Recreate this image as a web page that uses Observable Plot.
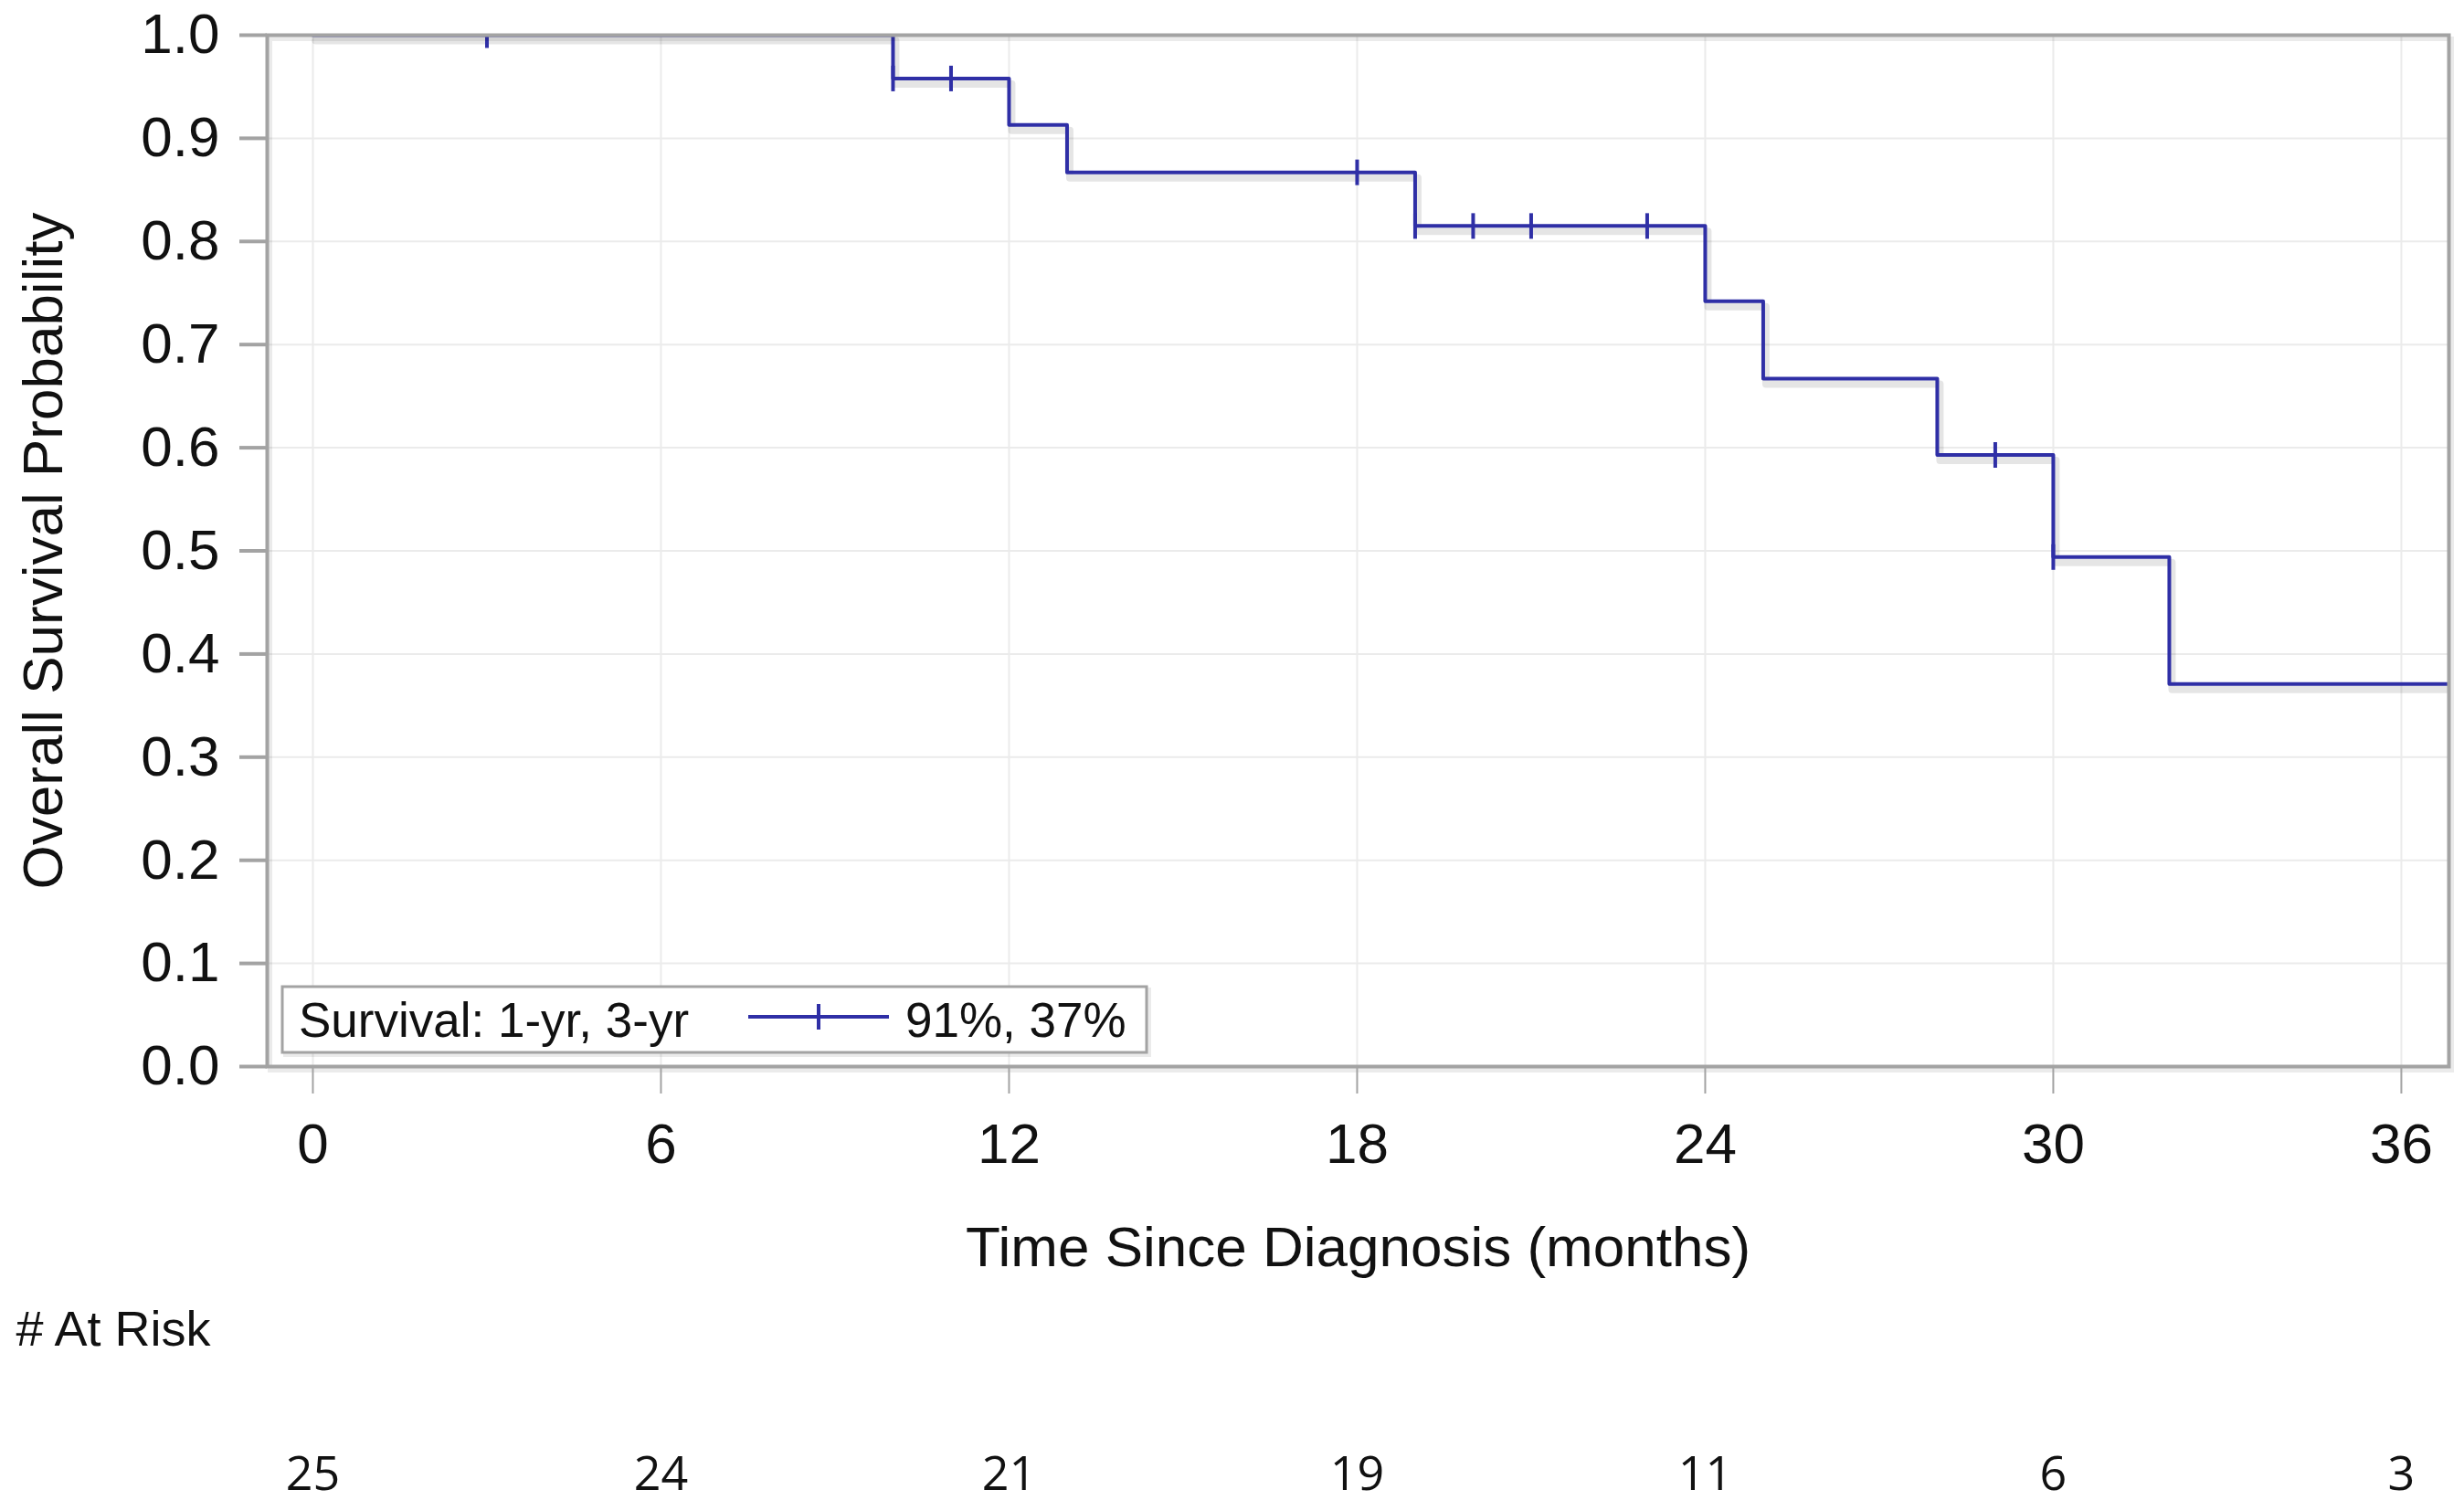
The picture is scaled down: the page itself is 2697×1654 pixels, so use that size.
<!DOCTYPE html>
<html>
<head>
<meta charset="utf-8">
<script src="https://cdn.jsdelivr.net/npm/d3@7"></script>
<script src="https://cdn.jsdelivr.net/npm/@observablehq/plot@0.6"></script>
<style>
  html, body { margin: 0; padding: 0; background: #fff; }
  #chart svg { display: block; }
</style>
</head>
<body>
<div id="chart"></div>
<script>
// ---- data ----
const stepMonths   = [0, 10, 12, 13, 19, 24, 25, 28, 30, 32, 36.8];
const stepSurvival = [1, 0.958, 0.913, 0.867, 0.815, 0.742, 0.667, 0.593, 0.494, 0.371, 0.371];
const censorMonths   = [3, 10, 11, 18, 19, 20, 21, 23, 29, 30];
const censorSurvival = [1, 0.958, 0.958, 0.867, 0.815, 0.815, 0.815, 0.815, 0.593, 0.494];
const xTicks = [0, 6, 12, 18, 24, 30, 36];
const yTicks = [0, 0.1, 0.2, 0.3, 0.4, 0.5, 0.6, 0.7, 0.8, 0.9, 1.0];
const atRiskMonths = [0, 6, 12, 18, 24, 30, 36];
const atRiskCounts = [25, 24, 21, 19, 11, 6, 3];
const legendTitle = "Survival: 1-yr, 3-yr";
const legendValue = "91%, 37%";
const xLabel = "Time Since Diagnosis (months)";
const yLabel = "Overall Survival Probability";
const riskLabel = "# At Risk";

const curve = stepMonths.map((m, i) => ({month: m, s: stepSurvival[i]}));
const censors = censorMonths.map((m, i) => ({month: m, s: censorSurvival[i]}));
const atRisk = atRiskMonths.map((m, i) => ({month: m, n: atRiskCounts[i]}));

const lineColor = "#2f2fa6";
const frameColor = "#a3a3a3";
const sans = "'Liberation Sans', Arial, sans-serif";

const censorSymbol = {
  draw(ctx) { ctx.moveTo(0, -14); ctx.lineTo(0, 14); }
};

function legendMark(index, scales, values, dims) {
  const g = d3.create("svg:g");
  const x0 = dims.marginLeft + 17;
  const yB = dims.height - dims.marginBottom;
  const top = yB - 87, bottom = yB - 15, right = x0 + 946;
  const cy = (top + bottom) / 2;
  g.append("rect").attr("x", x0 + 3).attr("y", top + 3).attr("width", right - x0).attr("height", bottom - top)
    .attr("fill", "none").attr("stroke", "#000").attr("stroke-opacity", 0.08).attr("stroke-width", 4);
  g.append("rect").attr("x", x0).attr("y", top).attr("width", right - x0).attr("height", bottom - top)
    .attr("fill", "#fff").attr("stroke", frameColor).attr("stroke-width", 3);
  g.append("text").attr("x", x0 + 18).attr("y", cy).attr("dy", "0.36em").attr("text-anchor", "start")
    .attr("font-family", sans).attr("font-size", 53).attr("fill", "#111").text(legendTitle);
  g.append("line").attr("x1", x0 + 510).attr("x2", x0 + 664).attr("y1", cy - 3).attr("y2", cy - 3)
    .attr("stroke", lineColor).attr("stroke-width", 4);
  g.append("line").attr("x1", x0 + 587).attr("x2", x0 + 587).attr("y1", cy - 17).attr("y2", cy + 11)
    .attr("stroke", lineColor).attr("stroke-width", 4);
  g.append("text").attr("x", x0 + 682).attr("y", cy).attr("dy", "0.36em").attr("text-anchor", "start")
    .attr("font-family", sans).attr("font-size", 53).attr("fill", "#111").text(legendValue);
  return g.node();
}

const plot = Plot.plot({
  width: 2697,
  height: 1654,
  marginLeft: 292,
  marginRight: 17,
  marginTop: 38,
  marginBottom: 487,
  style: {fontFamily: sans, fontSize: "62px", color: "#111", background: "#fff"},
  x: {domain: [-0.787, 36.82], ticks: xTicks},
  y: {domain: [0, 1], ticks: yTicks},
  marks: [
    Plot.gridX(xTicks, {stroke: "#ebebeb", strokeOpacity: 1, strokeWidth: 2}),
    Plot.gridY(yTicks, {stroke: "#ebebeb", strokeOpacity: 1, strokeWidth: 2}),
    // shadow of the curve
    Plot.line(curve, {x: "month", y: "s", curve: "step-after", stroke: "#000", strokeOpacity: 0.10,
      strokeWidth: 8, dx: 3, dy: 6, clip: true}),
    Plot.line(curve, {x: "month", y: "s", curve: "step-after", stroke: lineColor, strokeWidth: 4, clip: true}),
    Plot.dot(censors, {x: "month", y: "s", symbol: censorSymbol, stroke: lineColor, strokeWidth: 4,
      fill: "none", clip: true}),
    // frame with soft shadow
    Plot.frame({stroke: "#000", strokeOpacity: 0.08, strokeWidth: 5, dx: 3, dy: 4}),
    Plot.frame({stroke: frameColor, strokeWidth: 4}),
    Plot.axisY(yTicks, {tickSize: 30, tickPadding: 22, stroke: frameColor, strokeWidth: 4,
      fontSize: 62, tickFormat: d3.format(".1f"), label: null}),
    Plot.axisX(xTicks, {tickSize: 30, tickPadding: 31, stroke: frameColor, strokeWidth: 2,
      fontSize: 62, label: null}),
    Plot.text([yLabel], {frameAnchor: "left", dx: -244, rotate: -90, fontSize: 62, textAnchor: "middle"}),
    Plot.text([xLabel], {frameAnchor: "bottom", dy: 218, fontSize: 62}),
    Plot.text([riskLabel], {frameAnchor: "bottom-left", dx: -275, dy: 305, textAnchor: "start", fontSize: 54}),
    Plot.text(atRisk, {x: "month", text: "n", frameAnchor: "bottom", dy: 463, fontSize: 52,
      fontFamily: "'Open Sans', sans-serif"}),
    legendMark
  ]
});

document.getElementById("chart").appendChild(plot);
</script>
</body>
</html>
